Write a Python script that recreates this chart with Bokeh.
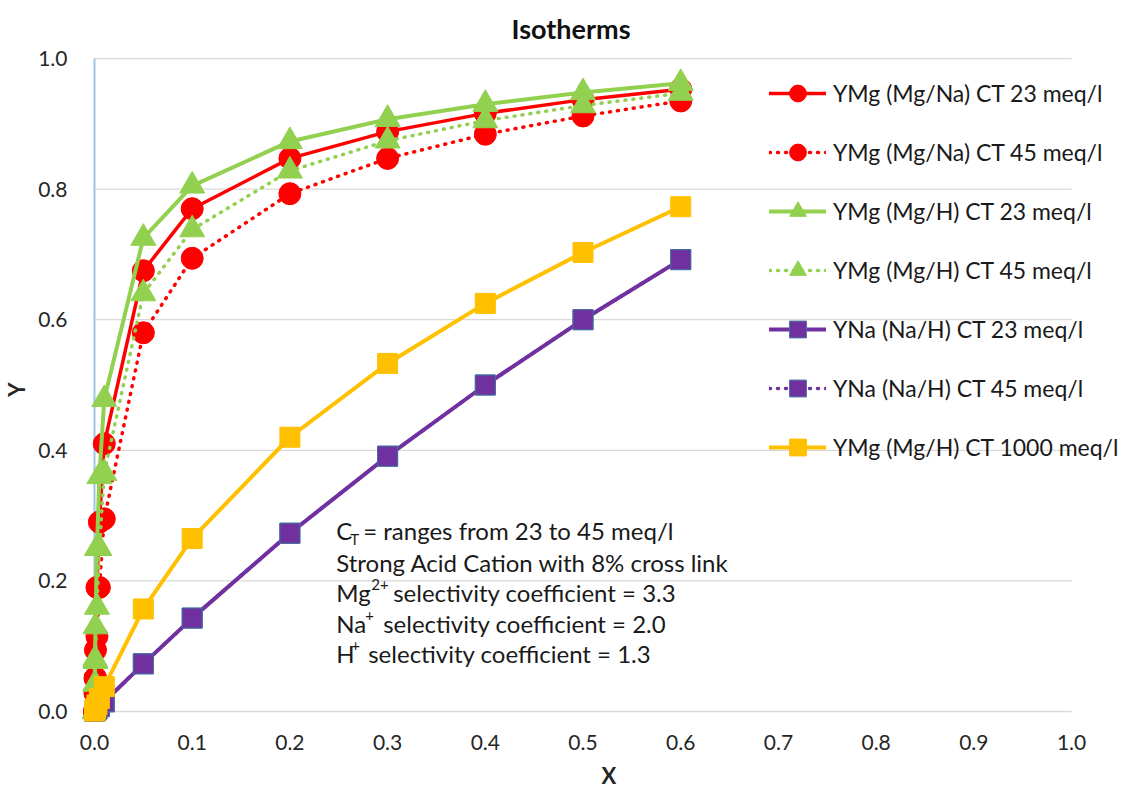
from bokeh.plotting import figure
from bokeh.models import (Range1d, FixedTicker, NumeralTickFormatter, Legend,
                          LegendItem, Label, ColumnDataSource)
from bokeh.embed import file_html
from bokeh.resources import INLINE

# ---------------- data ----------------
x_vals = [0, 0.0005, 0.001, 0.0025, 0.005, 0.01, 0.05, 0.1, 0.2, 0.3, 0.4, 0.5, 0.6]
y_mgna_23 = [0, 0.051, 0.094, 0.19, 0.29, 0.41, 0.675, 0.77, 0.847, 0.888, 0.916, 0.937, 0.953]
y_mgna_45 = [0, 0.028, 0.052, 0.115, 0.19, 0.295, 0.58, 0.694, 0.793, 0.847, 0.884, 0.912, 0.935]
y_mgh_23 = [0, 0.08, 0.13, 0.25, 0.36, 0.478, 0.725, 0.805, 0.873, 0.907, 0.93, 0.948, 0.962]
y_mgh_45 = [0, 0.042, 0.077, 0.16, 0.25, 0.365, 0.64, 0.738, 0.828, 0.874, 0.905, 0.928, 0.947]
y_nah_23 = [0, 0.0008, 0.0015, 0.0037, 0.0075, 0.0149, 0.073, 0.143, 0.273, 0.391, 0.5, 0.6, 0.692]
y_nah_45 = [0, 0.0008, 0.0015, 0.0037, 0.0075, 0.0149, 0.073, 0.143, 0.273, 0.391, 0.5, 0.6, 0.692]
y_mgh_1000 = [0, 0.002, 0.004, 0.01, 0.02, 0.038, 0.157, 0.265, 0.42, 0.533, 0.625, 0.703, 0.773]

series_labels = [
    "YMg (Mg/Na) CT 23 meq/l",
    "YMg (Mg/Na) CT 45 meq/l",
    "YMg (Mg/H) CT 23 meq/l",
    "YMg (Mg/H) CT 45 meq/l",
    "YNa (Na/H) CT 23 meq/l",
    "YNa (Na/H) CT 45 meq/l",
    "YMg (Mg/H) CT 1000 meq/l",
]
x_ticks = [0.0, 0.1, 0.2, 0.3, 0.4, 0.5, 0.6, 0.7, 0.8, 0.9, 1.0]
y_ticks = [0.0, 0.2, 0.4, 0.6, 0.8, 1.0]

# ---------------- styles ----------------
FONT = "Lato"
RED, GREEN, PURPLE, YELLOW = "#ff0000", "#92d050", "#7030a0", "#ffc000"
styles = [
    dict(color=RED, dash="solid", marker="circle", size=22, mline=RED, lw=3.5),
    dict(color=RED, dash="1 7", marker="circle", size=22, mline=RED, lw=3.5),
    dict(color=GREEN, dash="solid", marker="triangle", size=25, mline=GREEN, lw=4),
    dict(color=GREEN, dash="1 7", marker="triangle", size=25, mline=GREEN, lw=3.5),
    dict(color=PURPLE, dash="solid", marker="square", size=20, mline="#41719c", lw=4),
    dict(color=PURPLE, dash="1 7", marker="square", size=20, mline="#41719c", lw=3.5),
    dict(color=YELLOW, dash="solid", marker="square", size=20, mline=YELLOW, lw=4),
]
series_y = [y_mgna_23, y_mgna_45, y_mgh_23, y_mgh_45, y_nah_23, y_nah_45, y_mgh_1000]

PX_X = 978.0   # pixels per x unit
PX_Y = 653.0   # pixels per y unit

p = figure(width=1135, height=791, output_backend="svg", toolbar_location=None,
           x_range=Range1d(-12 / PX_X, 1.0 + 64 / PX_X),
           y_range=Range1d(-10 / PX_Y, 1.0 + 1 / PX_Y),
           min_border_left=81, min_border_right=0, min_border_top=57,
           min_border_bottom=70)
p.outline_line_color = None
p.background_fill_color = "white"

# title
p.title.text = "Isotherms"
p.title.text_font = FONT
p.title.text_font_style = "bold"
p.title.text_font_size = "27px"
p.title.align = "left"
p.title.offset = 429
p.title.vertical_align = "top"
p.title.standoff = 21
p.title.text_color = "#111111"

# axes
for ax in (p.xaxis[0], p.yaxis[0]):
    ax.axis_line_color = None
    ax.major_tick_line_color = None
    ax.minor_tick_line_color = None
    ax.major_label_text_font = FONT
    ax.major_label_text_font_size = "21px"
    ax.major_label_text_color = "#262626"
    ax.axis_label_text_font = FONT
    ax.axis_label_text_font_style = "bold"
    ax.axis_label_text_font_size = "22px"
    ax.axis_label_text_color = "#262626"
    ax.formatter = NumeralTickFormatter(format="0.0")

p.xaxis.ticker = FixedTicker(ticks=x_ticks)
p.yaxis.ticker = FixedTicker(ticks=y_ticks)
p.xaxis.axis_label = "X"
p.yaxis.axis_label = "Y"
p.xaxis.major_label_standoff = 7
p.xaxis.axis_label_standoff = 9
p.yaxis.major_label_standoff = 9
p.yaxis.axis_label_standoff = 5

p.xgrid.grid_line_color = None
p.ygrid.grid_line_color = None

# horizontal gridlines spanning the value range 0..1 of x
p.segment(x0=[x_ticks[0]] * len(y_ticks), y0=y_ticks,
          x1=[x_ticks[-1]] * len(y_ticks), y1=y_ticks,
          line_color="#d9d9d9", line_width=1.3)
# vertical value-axis line at x = 0
p.segment(x0=[x_ticks[0]], y0=[y_ticks[0]], x1=[x_ticks[0]], y1=[y_ticks[-1]],
          line_color="#9dc3e6", line_width=2)

items = []
for lab_txt, ys, st in zip(series_labels, series_y, styles):
    src = ColumnDataSource(dict(x=x_vals, y=ys))
    lr = p.line("x", "y", source=src, line_color=st["color"], line_width=st["lw"],
                line_dash=st["dash"], line_cap="round", line_join="round")
    sr = p.scatter("x", "y", source=src, marker=st["marker"], size=st["size"],
                   fill_color=st["color"], line_color=st["mline"], line_width=1)
    items.append(LegendItem(label=lab_txt, renderers=[lr, sr]))

legend = Legend(items=items, location=(687, 253), padding=0, margin=0,
                glyph_width=57, glyph_height=42, label_height=42, spacing=17,
                label_standoff=7, border_line_color=None,
                background_fill_alpha=0.0,
                label_text_font=FONT, label_text_font_size="23px",
                label_text_color="#1a1a1a")
p.add_layout(legend)


# annotation block (positions given in screen pixels of the plot area)
def lab(px, py, t, size="24px"):
    p.add_layout(Label(x=(px - 93) / PX_X, y=(711 - py) / PX_Y, text=t,
                       text_font=FONT, text_font_size=size,
                       text_baseline="middle", text_color="#1a1a1a"))


lab(335, 530, "C")
lab(349, 538, "T", "15px")
lab(362, 530, "= ranges from 23 to 45 meq/l")
lab(335, 562, "Strong Acid Cation with 8% cross link")
lab(335, 592, "Mg")
lab(370, 584, "2+", "15px")
lab(392, 592, "selectivity coefficient = 3.3")
lab(335, 623, "Na")
lab(364, 615, "+", "15px")
lab(382, 623, "selectivity coefficient = 2.0")
lab(335, 653, "H")
lab(350, 645, "+", "15px")
lab(367, 653, "selectivity coefficient = 1.3")

open("out.html", "w").write(file_html(p, INLINE))
